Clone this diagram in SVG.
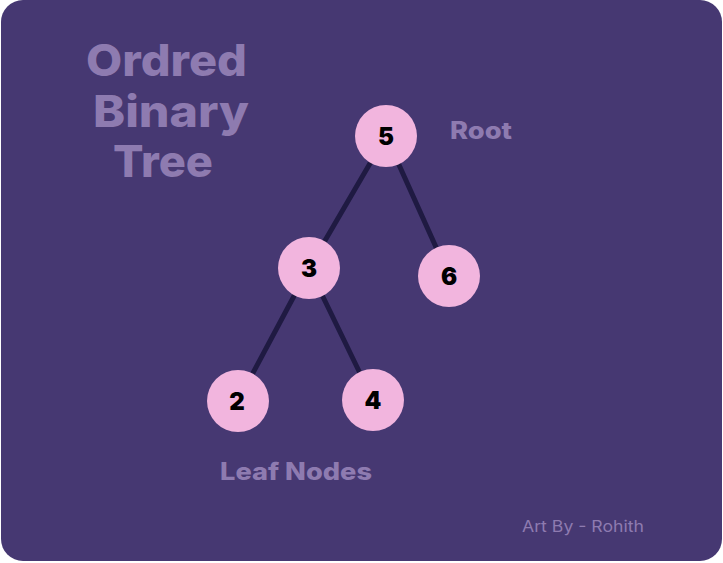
<svg xmlns="http://www.w3.org/2000/svg" width="723" height="563" viewBox="0 0 723 563">
<style>
.bg{fill:#463872}
.lbl{fill:#8e7bb0;font-family:Inter,"Open Sans",sans-serif;font-weight:800}
.node circle{fill:#f2b5de}
.node text{fill:#000;font-family:Inter,"Open Sans",sans-serif;font-weight:900;font-size:24px;text-anchor:middle}
.edge{stroke:#1f1a42;stroke-width:5;stroke-linecap:round;fill:none}
</style>
<rect width="723" height="563" fill="#ffffff"/>
<rect class="bg" x="1" y="0" width="721" height="561" rx="22"/>
<g id="title">
<text class="lbl" x="86" y="76" font-size="44" textLength="161" lengthAdjust="spacingAndGlyphs">Ordred</text>
<text class="lbl" x="93" y="127" font-size="44" textLength="156" lengthAdjust="spacingAndGlyphs">Binary</text>
<text class="lbl" x="113" y="177" font-size="44" textLength="100" lengthAdjust="spacingAndGlyphs">Tree</text>
</g>
<text class="lbl" x="450" y="139" font-size="24" textLength="62" lengthAdjust="spacingAndGlyphs">Root</text>
<text class="lbl" x="220" y="480" font-size="24" textLength="152" lengthAdjust="spacingAndGlyphs">Leaf Nodes</text>
<text x="522" y="532" font-size="16" fill="#8e7bb0" font-family="Inter,'Open Sans',sans-serif" textLength="122" lengthAdjust="spacingAndGlyphs">Art By - Rohith</text>
<g id="connectors">
<line class="edge" x1="386" y1="136" x2="309" y2="268"/>
<line class="edge" x1="386" y1="136" x2="449" y2="276"/>
<line class="edge" x1="309" y1="268" x2="238" y2="401"/>
<line class="edge" x1="309" y1="268" x2="373" y2="400"/>
</g>
<g id="n5" class="node"><circle cx="386" cy="136" r="31"/><text x="386" y="145">5</text></g>
<g id="n3" class="node"><circle cx="309" cy="268" r="31"/><text x="309" y="277">3</text></g>
<g id="n6" class="node"><circle cx="449" cy="276" r="31"/><text x="449" y="285">6</text></g>
<g id="n2" class="node"><circle cx="238" cy="401" r="31"/><text x="237" y="410">2</text></g>
<g id="n4" class="node"><circle cx="373" cy="400" r="31"/><text x="373" y="409">4</text></g>
</svg>
